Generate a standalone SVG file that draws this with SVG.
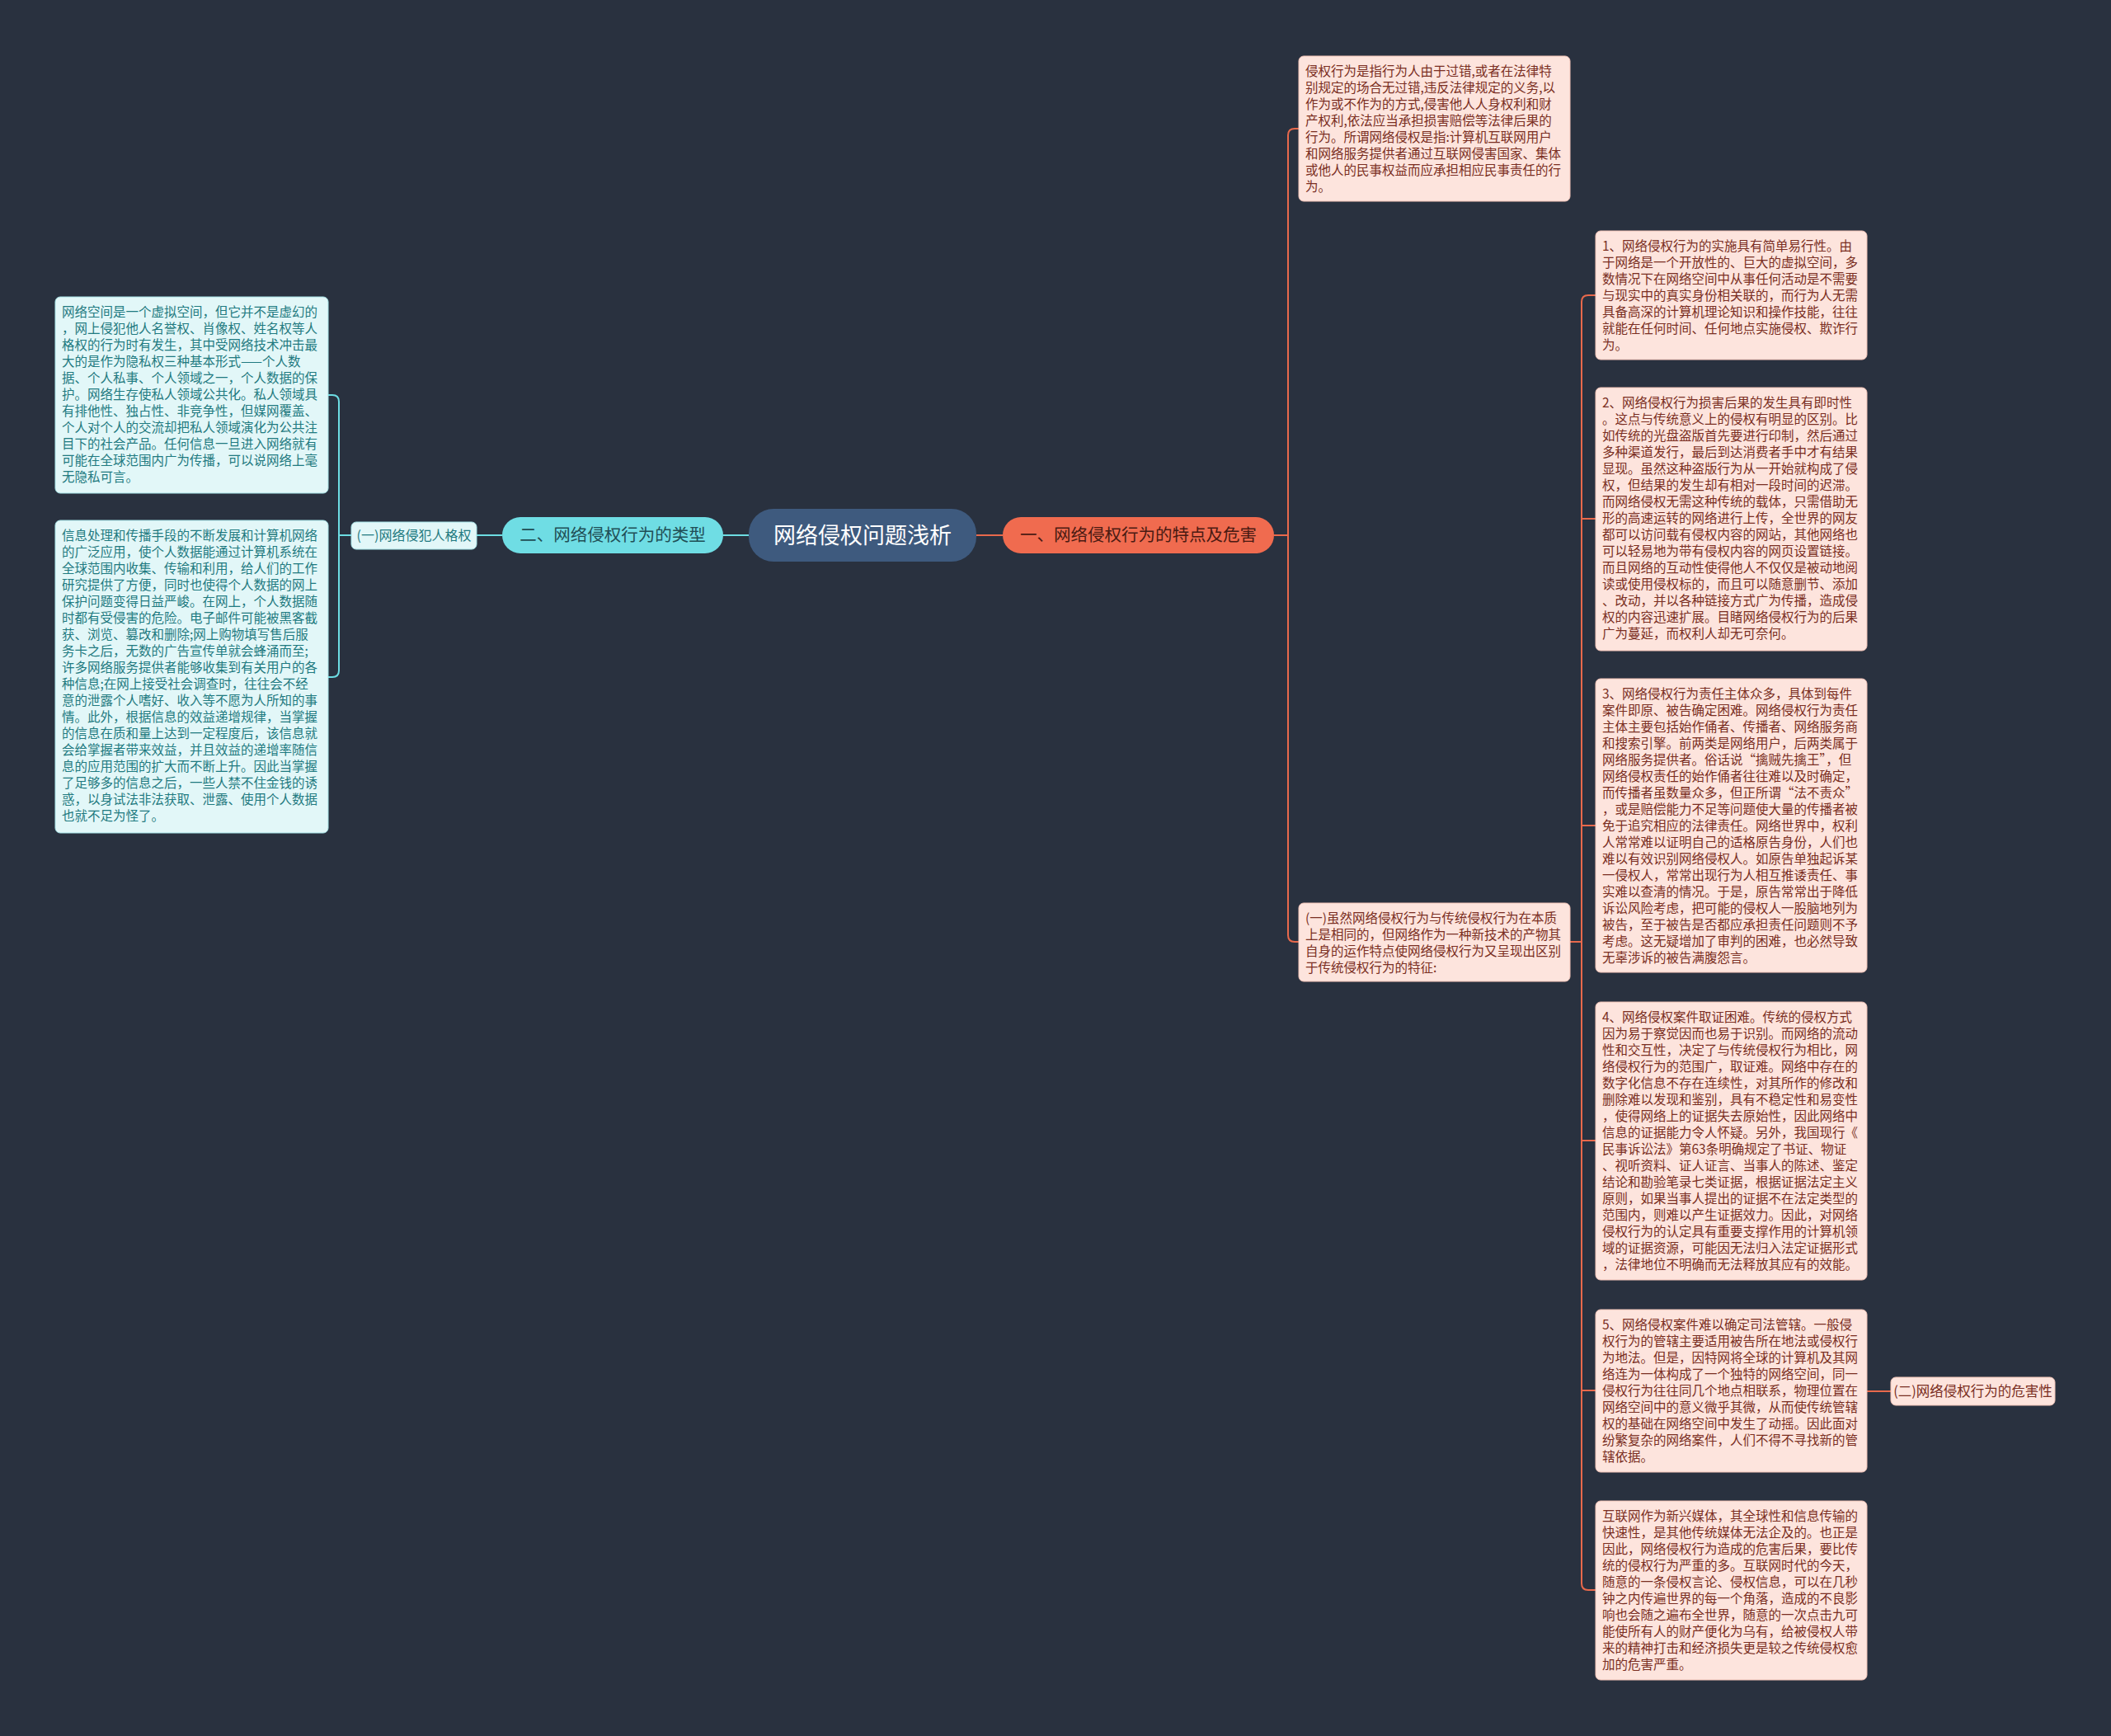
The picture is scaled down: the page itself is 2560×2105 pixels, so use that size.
<svg xmlns="http://www.w3.org/2000/svg" width="2560" height="2105" viewBox="0 0 2560 2105">
<style>
.bg{fill:#29313f}
.rbox{fill:#fde4dd;stroke:#f1c3b7;stroke-width:1}
.lbox{fill:#e2f7f8;stroke:#a6e3e7;stroke-width:1}
.t{font-family:"Noto Sans CJK SC","Noto Sans",sans-serif;font-size:15.5px}
.rt{fill:#7a2e22}
.lt{fill:#1f7a80}
.oc{stroke:#e8694c;fill:none;stroke-width:2}
.cc{stroke:#6ddce3;fill:none;stroke-width:2}
</style>
<rect class="bg" x="0" y="0" width="2560" height="2105"/>
<g id="connectors">
<path class="oc" d="M1184 649 H1216" stroke-width="3.5"/>
<path class="oc" d="M1545 649 H1562"/>
<path class="oc" d="M1575 156 H1570 Q1562 156 1562 164 V1134 Q1562 1142 1570 1142 H1575"/>
<path class="oc" d="M1904 1142 H1918"/>
<path class="oc" d="M1935 358 H1926 Q1918 358 1918 366 V1920 Q1918 1928 1926 1928 H1935"/>
<path class="oc" d="M1918 629 H1935 M1918 1001 H1935 M1918 1383 H1935 M1918 1686 H1935"/>
<path class="oc" d="M2264 1687 H2293"/>
<path class="cc" d="M908 649 H877" stroke-width="3.5"/>
<path class="cc" d="M609 649 H578"/>
<path class="cc" d="M426 649 H411"/>
<path class="cc" d="M397 479 H403 Q411 479 411 487 V813 Q411 821 403 821 H397"/>
</g>
<g id="center">
<rect x="908" y="617" width="276" height="64" rx="30" fill="#3e5a7e"/>
<text x="1046" y="659" text-anchor="middle" font-family="Noto Sans CJK SC, sans-serif" font-size="27" fill="#ffffff">网络侵权问题浅析</text>
</g>
<g id="branch-right">
<rect x="1216" y="627" width="329" height="44" rx="22" fill="#f06b4f"/>
<text x="1380.5" y="656" text-anchor="middle" font-family="Noto Sans CJK SC, sans-serif" font-size="20.5" fill="#4a1a12">一、网络侵权行为的特点及危害</text>
</g>
<g id="branch-left">
<rect x="609" y="627" width="268" height="44" rx="22" fill="#6fdde4"/>
<text x="743" y="656" text-anchor="middle" font-family="Noto Sans CJK SC, sans-serif" font-size="20.5" fill="#1f4e55">二、网络侵权行为的类型</text>
</g>
<g id="sub-left">
<rect x="426" y="633" width="152" height="33" rx="6" class="lbox"/>
<text x="502" y="655" text-anchor="middle" font-family="Noto Sans CJK SC, sans-serif" font-size="16" class="lt">(一)网络侵犯人格权</text>
</g>
<g id="left-box-1">
<rect x="67" y="360" width="331" height="238" rx="6" class="lbox"/>
<text class="t lt" x="75" y="384"><tspan x="75">网络空间是一个虚拟空间，但它并不是虚幻的</tspan><tspan x="75" dy="20">，网上侵犯他人名誉权、肖像权、姓名权等人</tspan><tspan x="75" dy="20">格权的行为时有发生，其中受网络技术冲击最</tspan><tspan x="75" dy="20">大的是作为隐私权三种基本形式——个人数</tspan><tspan x="75" dy="20">据、个人私事、个人领域之一，个人数据的保</tspan><tspan x="75" dy="20">护。网络生存使私人领域公共化。私人领域具</tspan><tspan x="75" dy="20">有排他性、独占性、非竞争性，但媒网覆盖、</tspan><tspan x="75" dy="20">个人对个人的交流却把私人领域演化为公共注</tspan><tspan x="75" dy="20">目下的社会产品。任何信息一旦进入网络就有</tspan><tspan x="75" dy="20">可能在全球范围内广为传播，可以说网络上毫</tspan><tspan x="75" dy="20">无隐私可言。</tspan></text>
</g>
<g id="left-box-2">
<rect x="67" y="631" width="331" height="379" rx="6" class="lbox"/>
<text class="t lt" x="75" y="655"><tspan x="75">信息处理和传播手段的不断发展和计算机网络</tspan><tspan x="75" dy="20">的广泛应用，使个人数据能通过计算机系统在</tspan><tspan x="75" dy="20">全球范围内收集、传输和利用，给人们的工作</tspan><tspan x="75" dy="20">研究提供了方便，同时也使得个人数据的网上</tspan><tspan x="75" dy="20">保护问题变得日益严峻。在网上，个人数据随</tspan><tspan x="75" dy="20">时都有受侵害的危险。电子邮件可能被黑客截</tspan><tspan x="75" dy="20">获、浏览、篡改和删除;网上购物填写售后服</tspan><tspan x="75" dy="20">务卡之后，无数的广告宣传单就会蜂涌而至;</tspan><tspan x="75" dy="20">许多网络服务提供者能够收集到有关用户的各</tspan><tspan x="75" dy="20">种信息;在网上接受社会调查时，往往会不经</tspan><tspan x="75" dy="20">意的泄露个人嗜好、收入等不愿为人所知的事</tspan><tspan x="75" dy="20">情。此外，根据信息的效益递增规律，当掌握</tspan><tspan x="75" dy="20">的信息在质和量上达到一定程度后，该信息就</tspan><tspan x="75" dy="20">会给掌握者带来效益，并且效益的递增率随信</tspan><tspan x="75" dy="20">息的应用范围的扩大而不断上升。因此当掌握</tspan><tspan x="75" dy="20">了足够多的信息之后，一些人禁不住金钱的诱</tspan><tspan x="75" dy="20">惑，以身试法非法获取、泄露、使用个人数据</tspan><tspan x="75" dy="20">也就不足为怪了。</tspan></text>
</g>
<g id="definition">
<rect x="1575" y="68" width="329" height="176" rx="6" class="rbox"/>
<text class="t rt" x="1583" y="92"><tspan x="1583">侵权行为是指行为人由于过错,或者在法律特</tspan><tspan x="1583" dy="20">别规定的场合无过错,违反法律规定的义务,以</tspan><tspan x="1583" dy="20">作为或不作为的方式,侵害他人人身权利和财</tspan><tspan x="1583" dy="20">产权利,依法应当承担损害赔偿等法律后果的</tspan><tspan x="1583" dy="20">行为。所谓网络侵权是指:计算机互联网用户</tspan><tspan x="1583" dy="20">和网络服务提供者通过互联网侵害国家、集体</tspan><tspan x="1583" dy="20">或他人的民事权益而应承担相应民事责任的行</tspan><tspan x="1583" dy="20">为。</tspan></text>
</g>
<g id="sub-right-1">
<rect x="1575" y="1095" width="329" height="95" rx="6" class="rbox"/>
<text class="t rt" x="1583" y="1119"><tspan x="1583">(一)虽然网络侵权行为与传统侵权行为在本质</tspan><tspan x="1583" dy="20">上是相同的，但网络作为一种新技术的产物其</tspan><tspan x="1583" dy="20">自身的运作特点使网络侵权行为又呈现出区别</tspan><tspan x="1583" dy="20">于传统侵权行为的特征:</tspan></text>
</g>
<g id="item-1">
<rect x="1935" y="280" width="329" height="156" rx="6" class="rbox"/>
<text class="t rt" x="1943" y="304"><tspan x="1943">1、网络侵权行为的实施具有简单易行性。由</tspan><tspan x="1943" dy="20">于网络是一个开放性的、巨大的虚拟空间，多</tspan><tspan x="1943" dy="20">数情况下在网络空间中从事任何活动是不需要</tspan><tspan x="1943" dy="20">与现实中的真实身份相关联的，而行为人无需</tspan><tspan x="1943" dy="20">具备高深的计算机理论知识和操作技能，往往</tspan><tspan x="1943" dy="20">就能在任何时间、任何地点实施侵权、欺诈行</tspan><tspan x="1943" dy="20">为。</tspan></text>
</g>
<g id="item-2">
<rect x="1935" y="470" width="329" height="319" rx="6" class="rbox"/>
<text class="t rt" x="1943" y="494"><tspan x="1943">2、网络侵权行为损害后果的发生具有即时性</tspan><tspan x="1943" dy="20">。这点与传统意义上的侵权有明显的区别。比</tspan><tspan x="1943" dy="20">如传统的光盘盗版首先要进行印制，然后通过</tspan><tspan x="1943" dy="20">多种渠道发行，最后到达消费者手中才有结果</tspan><tspan x="1943" dy="20">显现。虽然这种盗版行为从一开始就构成了侵</tspan><tspan x="1943" dy="20">权，但结果的发生却有相对一段时间的迟滞。</tspan><tspan x="1943" dy="20">而网络侵权无需这种传统的载体，只需借助无</tspan><tspan x="1943" dy="20">形的高速运转的网络进行上传，全世界的网友</tspan><tspan x="1943" dy="20">都可以访问载有侵权内容的网站，其他网络也</tspan><tspan x="1943" dy="20">可以轻易地为带有侵权内容的网页设置链接。</tspan><tspan x="1943" dy="20">而且网络的互动性使得他人不仅仅是被动地阅</tspan><tspan x="1943" dy="20">读或使用侵权标的，而且可以随意删节、添加</tspan><tspan x="1943" dy="20">、改动，并以各种链接方式广为传播，造成侵</tspan><tspan x="1943" dy="20">权的内容迅速扩展。目睹网络侵权行为的后果</tspan><tspan x="1943" dy="20">广为蔓延，而权利人却无可奈何。</tspan></text>
</g>
<g id="item-3">
<rect x="1935" y="823" width="329" height="356" rx="6" class="rbox"/>
<text class="t rt" x="1943" y="847"><tspan x="1943">3、网络侵权行为责任主体众多，具体到每件</tspan><tspan x="1943" dy="20">案件即原、被告确定困难。网络侵权行为责任</tspan><tspan x="1943" dy="20">主体主要包括始作俑者、传播者、网络服务商</tspan><tspan x="1943" dy="20">和搜索引擎。前两类是网络用户，后两类属于</tspan><tspan x="1943" dy="20">网络服务提供者。俗话说“擒贼先擒王”，但</tspan><tspan x="1943" dy="20">网络侵权责任的始作俑者往往难以及时确定，</tspan><tspan x="1943" dy="20">而传播者虽数量众多，但正所谓“法不责众”</tspan><tspan x="1943" dy="20">，或是赔偿能力不足等问题使大量的传播者被</tspan><tspan x="1943" dy="20">免于追究相应的法律责任。网络世界中，权利</tspan><tspan x="1943" dy="20">人常常难以证明自己的适格原告身份，人们也</tspan><tspan x="1943" dy="20">难以有效识别网络侵权人。如原告单独起诉某</tspan><tspan x="1943" dy="20">一侵权人，常常出现行为人相互推诿责任、事</tspan><tspan x="1943" dy="20">实难以查清的情况。于是，原告常常出于降低</tspan><tspan x="1943" dy="20">诉讼风险考虑，把可能的侵权人一股脑地列为</tspan><tspan x="1943" dy="20">被告，至于被告是否都应承担责任问题则不予</tspan><tspan x="1943" dy="20">考虑。这无疑增加了审判的困难，也必然导致</tspan><tspan x="1943" dy="20">无辜涉诉的被告满腹怨言。</tspan></text>
</g>
<g id="item-4">
<rect x="1935" y="1215" width="329" height="337" rx="6" class="rbox"/>
<text class="t rt" x="1943" y="1239"><tspan x="1943">4、网络侵权案件取证困难。传统的侵权方式</tspan><tspan x="1943" dy="20">因为易于察觉因而也易于识别。而网络的流动</tspan><tspan x="1943" dy="20">性和交互性，决定了与传统侵权行为相比，网</tspan><tspan x="1943" dy="20">络侵权行为的范围广，取证难。网络中存在的</tspan><tspan x="1943" dy="20">数字化信息不存在连续性，对其所作的修改和</tspan><tspan x="1943" dy="20">删除难以发现和鉴别，具有不稳定性和易变性</tspan><tspan x="1943" dy="20">，使得网络上的证据失去原始性，因此网络中</tspan><tspan x="1943" dy="20">信息的证据能力令人怀疑。另外，我国现行《</tspan><tspan x="1943" dy="20">民事诉讼法》第63条明确规定了书证、物证</tspan><tspan x="1943" dy="20">、视听资料、证人证言、当事人的陈述、鉴定</tspan><tspan x="1943" dy="20">结论和勘验笔录七类证据，根据证据法定主义</tspan><tspan x="1943" dy="20">原则，如果当事人提出的证据不在法定类型的</tspan><tspan x="1943" dy="20">范围内，则难以产生证据效力。因此，对网络</tspan><tspan x="1943" dy="20">侵权行为的认定具有重要支撑作用的计算机领</tspan><tspan x="1943" dy="20">域的证据资源，可能因无法归入法定证据形式</tspan><tspan x="1943" dy="20">，法律地位不明确而无法释放其应有的效能。</tspan></text>
</g>
<g id="item-5">
<rect x="1935" y="1588" width="329" height="197" rx="6" class="rbox"/>
<text class="t rt" x="1943" y="1612"><tspan x="1943">5、网络侵权案件难以确定司法管辖。一般侵</tspan><tspan x="1943" dy="20">权行为的管辖主要适用被告所在地法或侵权行</tspan><tspan x="1943" dy="20">为地法。但是，因特网将全球的计算机及其网</tspan><tspan x="1943" dy="20">络连为一体构成了一个独特的网络空间，同一</tspan><tspan x="1943" dy="20">侵权行为往往同几个地点相联系，物理位置在</tspan><tspan x="1943" dy="20">网络空间中的意义微乎其微，从而使传统管辖</tspan><tspan x="1943" dy="20">权的基础在网络空间中发生了动摇。因此面对</tspan><tspan x="1943" dy="20">纷繁复杂的网络案件，人们不得不寻找新的管</tspan><tspan x="1943" dy="20">辖依据。</tspan></text>
</g>
<g id="item-6">
<rect x="1935" y="1820" width="329" height="217" rx="6" class="rbox"/>
<text class="t rt" x="1943" y="1844"><tspan x="1943">互联网作为新兴媒体，其全球性和信息传输的</tspan><tspan x="1943" dy="20">快速性，是其他传统媒体无法企及的。也正是</tspan><tspan x="1943" dy="20">因此，网络侵权行为造成的危害后果，要比传</tspan><tspan x="1943" dy="20">统的侵权行为严重的多。互联网时代的今天，</tspan><tspan x="1943" dy="20">随意的一条侵权言论、侵权信息，可以在几秒</tspan><tspan x="1943" dy="20">钟之内传遍世界的每一个角落，造成的不良影</tspan><tspan x="1943" dy="20">响也会随之遍布全世界，随意的一次点击九可</tspan><tspan x="1943" dy="20">能使所有人的财产便化为乌有，给被侵权人带</tspan><tspan x="1943" dy="20">来的精神打击和经济损失更是较之传统侵权愈</tspan><tspan x="1943" dy="20">加的危害严重。</tspan></text>
</g>
<g id="sub-right-2">
<rect x="2293" y="1670" width="199" height="34" rx="6" class="rbox"/>
<text x="2392.5" y="1693" text-anchor="middle" font-family="Noto Sans CJK SC, sans-serif" font-size="16.5" class="rt">(二)网络侵权行为的危害性</text>
</g>
</svg>
